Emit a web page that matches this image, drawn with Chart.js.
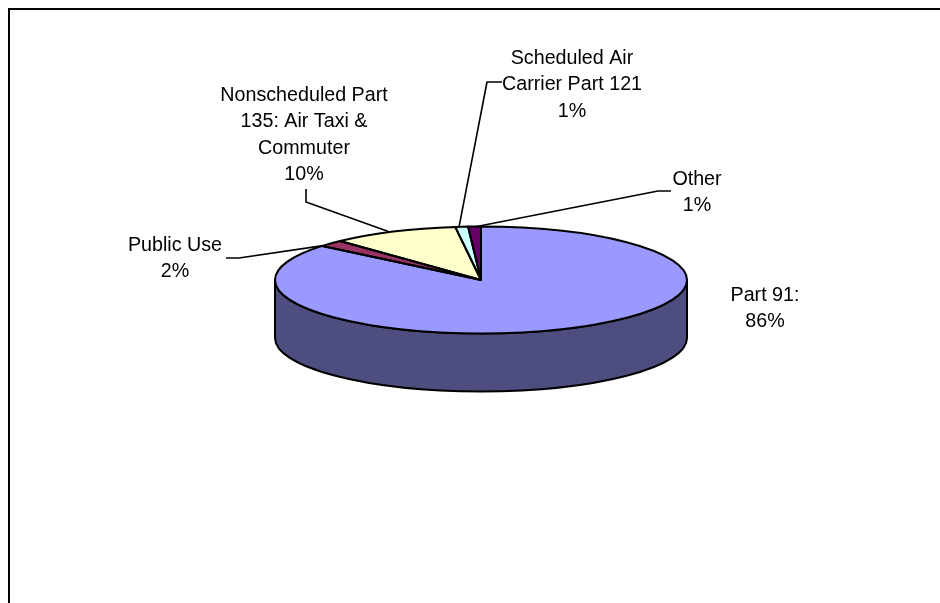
<!DOCTYPE html>
<html>
<head>
<meta charset="utf-8">
<style>
  html, body { margin: 0; padding: 0; background: #fff; }
  canvas { display: block; }
</style>
<script src="https://cdn.jsdelivr.net/npm/chart.js@4"></script>
</head>
<body>
<canvas id="pie" width="940" height="603"></canvas>
<script>
// Accident share by operating category
const categories = ['Part 91', 'Public Use', 'Nonscheduled Part 135: Air Taxi & Commuter', 'Scheduled Air Carrier Part 121', 'Other'];
const shares = [86, 2, 10, 1, 1];
const sliceColors = ['#9999FF', '#993366', '#FFFFCC', '#CCFFFF', '#660066'];
const wallColors = ['#4D4D80', '#4D1A33', '#808066', '#668080', '#330033'];

// Label text, one entry per slice
const labelLines = [
  ['Part 91:', '86%'],
  ['Public Use', '2%'],
  ['Nonscheduled Part', '135: Air Taxi &', 'Commuter', '10%'],
  ['Scheduled Air', 'Carrier Part 121', '1%'],
  ['Other', '1%']
];

// Label placement: block centre x, first baseline y
const labelPlacement = [
  { x: 765, y: 301 },
  { x: 175, y: 251 },
  { x: 304, y: 101 },
  { x: 572, y: 64 },
  { x: 697, y: 185 }
];
const LINE_HEIGHT = 26.4;

// Leader lines: stub start, elbow, and where along its slice the line lands
const leaders = [
  null,
  { from: [226, 258], elbow: [239, 258], along: 0.05 },
  { from: [306, 189], elbow: [306, 202], along: 0.47 },
  { from: [502, 82],  elbow: [487, 82],  along: 0.3 },
  { from: [671, 191], elbow: [658, 191], along: 0.67 }
];

const SQUASH = 53.5 / 206;   // vertical flattening of the disc
const DEPTH = 58;            // height of the disc's side wall
const INK = '#000000';

function discGeometry(chart) {
  const arcs = chart.getDatasetMeta(0).data;
  return { arcs, cx: arcs[0].x, cy: arcs[0].y, r: arcs[0].outerRadius };
}

const tiltedDisc = {
  id: 'tiltedDisc',
  beforeDatasetsDraw(chart) {
    const { ctx } = chart;
    const { arcs, cx, cy, r } = discGeometry(chart);
    const ry = r * SQUASH;
    ctx.save();
    // Side wall: only the part of each slice facing the viewer
    arcs.forEach((arc, i) => {
      const a0 = Math.max(arc.startAngle, 0);
      const a1 = Math.min(arc.endAngle, Math.PI);
      if (a1 <= a0) return;
      ctx.beginPath();
      ctx.ellipse(cx, cy, r, ry, 0, a0, a1);
      ctx.ellipse(cx, cy + DEPTH, r, ry, 0, a1, a0, true);
      ctx.closePath();
      ctx.fillStyle = wallColors[i];
      ctx.fill();
      ctx.lineWidth = 2;
      ctx.strokeStyle = INK;
      ctx.stroke();
    });
    ctx.restore();
    // Flatten the slices drawn by the library
    ctx.save();
    ctx.translate(cx, cy);
    ctx.scale(1, SQUASH);
    ctx.translate(-cx, -cy);
  },
  afterDatasetsDraw(chart) {
    const { ctx } = chart;
    ctx.restore();
    const { arcs, cx, cy, r } = discGeometry(chart);
    const ry = r * SQUASH;
    ctx.save();
    ctx.strokeStyle = INK;
    ctx.lineJoin = 'round';
    // Slice outlines
    ctx.lineWidth = 2;
    arcs.forEach(arc => {
      ctx.beginPath();
      ctx.moveTo(cx, cy);
      ctx.ellipse(cx, cy, r, ry, 0, arc.startAngle, arc.endAngle);
      ctx.closePath();
      ctx.stroke();
    });
    // Leader lines
    ctx.lineWidth = 1.6;
    leaders.forEach((lead, i) => {
      if (!lead) return;
      const arc = arcs[i];
      const a = arc.startAngle + (arc.endAngle - arc.startAngle) * lead.along;
      ctx.beginPath();
      ctx.moveTo(lead.from[0], lead.from[1]);
      ctx.lineTo(lead.elbow[0], lead.elbow[1]);
      ctx.lineTo(cx + r * Math.cos(a), cy + ry * Math.sin(a));
      ctx.stroke();
    });
    // Labels
    ctx.fillStyle = INK;
    ctx.font = '19.7px "Liberation Sans", Arial, sans-serif';
    ctx.textAlign = 'center';
    ctx.textBaseline = 'alphabetic';
    labelLines.forEach((lines, i) => {
      lines.forEach((line, n) => {
        ctx.fillText(line, labelPlacement[i].x, labelPlacement[i].y + n * LINE_HEIGHT);
      });
    });
    ctx.restore();
  }
};

const chartFrame = {
  id: 'chartFrame',
  beforeDraw(chart) {
    const { ctx, width, height } = chart;
    ctx.save();
    ctx.fillStyle = '#FFFFFF';
    ctx.fillRect(0, 0, width, height);
    ctx.strokeStyle = INK;
    ctx.lineWidth = 2;
    ctx.beginPath();
    ctx.moveTo(9, height + 2);
    ctx.lineTo(9, 9);
    ctx.lineTo(width + 2, 9);
    ctx.stroke();
    ctx.restore();
  }
};

new Chart(document.getElementById('pie'), {
  type: 'pie',
  data: {
    labels: categories,
    datasets: [{
      data: shares,
      backgroundColor: sliceColors,
      borderWidth: 0
    }]
  },
  options: {
    responsive: false,
    animation: false,
    layout: { padding: { left: 275, right: 253, top: 74, bottom: 117 } },
    plugins: { legend: { display: false }, tooltip: { enabled: false } }
  },
  plugins: [chartFrame, tiltedDisc]
});
</script>
</body>
</html>
